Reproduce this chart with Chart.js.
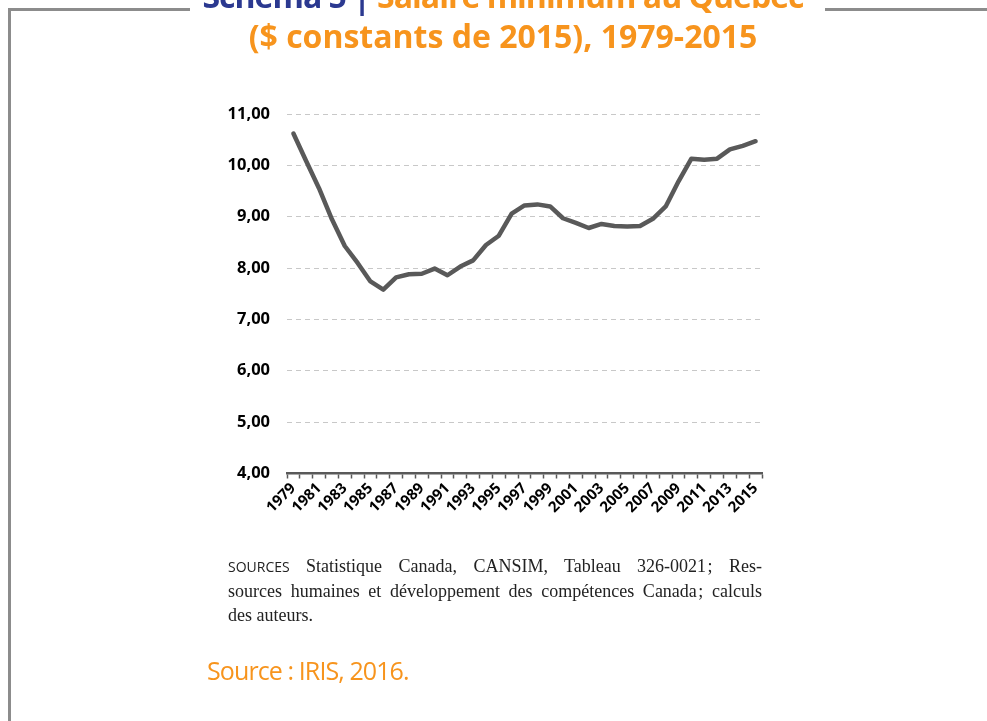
<!DOCTYPE html>
<html lang="fr">
<head>
<meta charset="utf-8">
<title>Salaire minimum au Québec</title>
<script src="https://cdn.jsdelivr.net/npm/chart.js@4"></script>
<style>
  html, body { margin: 0; padding: 0; background: #fff; }
  #page { position: relative; width: 987px; height: 721px; overflow: hidden; background: #fff; }
  #chart { position: absolute; left: 0; top: 0; }
  .frame { position: absolute; background: #8c8c8c; }
  #title {
    position: absolute; left: 0; width: 1006px; top: -24px;
    text-align: center; font-family: "Open Sans", sans-serif; font-weight: 700;
    font-size: 32px; line-height: 40px; color: #f7941d; letter-spacing: -1px;
  }
  #title .l2 { letter-spacing: 0px; }
  #title .blue { color: #2b3990; }
  #notes {
    position: absolute; left: 228px; top: 554px; width: 534px;
    font-family: "Liberation Serif", serif; font-size: 18px; line-height: 24px; color: #222;
  }
  #notes .j { text-align: justify; text-align-last: justify; }
  #notes .sc { font-family: "Open Sans", sans-serif; font-size: 14px; }
  #source {
    position: absolute; left: 207px; top: 653px;
    font-family: "Open Sans", sans-serif; font-size: 25px; color: #f7941d; letter-spacing: -0.9px;
  }
</style>
</head>
<body>
<div id="page">
  <canvas id="chart" width="987" height="721"></canvas>
  <div class="frame" style="left:8px; top:8px; width:182px; height:3px;"></div>
  <div class="frame" style="left:825px; top:8px; width:162px; height:3px;"></div>
  <div class="frame" style="left:8px; top:8px; width:3px; height:713px;"></div>
  <div id="title">
    <span class="blue">Schéma 5 |</span> Salaire minimum au Québec<br>
    <span class="l2">($ constants de 2015), 1979-2015</span>
  </div>
  <div id="notes">
    <div class="j"><span class="sc">SOURCES</span> Statistique Canada, CANSIM, Tableau 326-0021&#8202;; Res-</div>
    <div class="j">sources humaines et développement des compétences Canada&#8202;; calculs</div>
    <div>des auteurs.</div>
  </div>
  <div id="source">Source : IRIS, 2016.</div>
</div>
<script>
// Salaire minimum au Québec, $ constants de 2015
const years = [
  "1979", "1980", "1981", "1982", "1983", "1984", "1985", "1986", "1987", "1988",
  "1989", "1990", "1991", "1992", "1993", "1994", "1995", "1996", "1997", "1998",
  "1999", "2000", "2001", "2002", "2003", "2004", "2005", "2006", "2007", "2008",
  "2009", "2010", "2011", "2012", "2013", "2014", "2015"
];
const minimumWage = [
  10.62, 10.08, 9.55, 8.95, 8.43, 8.10, 7.74, 7.58, 7.82, 7.88,
  7.89, 7.99, 7.86, 8.03, 8.15, 8.45, 8.63, 9.06, 9.22, 9.24,
  9.20, 8.97, 8.88, 8.78, 8.86, 8.82, 8.81, 8.82, 8.96, 9.20,
  9.69, 10.13, 10.11, 10.13, 10.31, 10.38, 10.47
];
const yMin = 4;
const yMax = 11;

document.addEventListener("DOMContentLoaded", () => {
  initWageChart();
});

function initWageChart() {
  const ctx = document.getElementById("chart");
  if (!ctx) return;

  new Chart(ctx, {
    type: "line",
    data: {
      labels: years,
      datasets: [
        {
          label: "Salaire minimum",
          data: minimumWage,
          borderColor: "#595959",
          borderWidth: 4.5,
          pointRadius: 0,
          tension: 0,
          borderJoinStyle: "round",
          borderCapStyle: "round",
        },
      ],
    },
    options: {
      responsive: false,
      animation: false,
      layout: {
        padding: { left: 0, top: 114, right: 225, bottom: 0 },
      },
      scales: {
        x: {
          offset: true,
          grid: {
            offset: true,
            drawOnChartArea: false,
            drawTicks: true,
            tickLength: 5,
            tickColor: "#595959",
            tickWidth: 1.5,
          },
          border: { display: true, color: "#595959", width: 2.5 },
          ticks: {
            autoSkip: false,
            maxRotation: 45,
            minRotation: 45,
            padding: 1,
            color: "#000",
            font: { family: "Open Sans", weight: "bold", size: 15 },
            callback: function (value, index) {
              return index % 2 === 0 ? years[index] : "";
            },
          },
          afterFit: (scale) => {
            scale.height = 721 - 473.5;
          },
        },
        y: {
          min: yMin,
          max: yMax,
          grid: {
            color: "#c8c8c8",
            lineWidth: 1,
            drawTicks: false,
          },
          border: { display: false, dash: [5, 4] },
          ticks: {
            stepSize: 1,
            padding: 17,
            color: "#000",
            font: { family: "Open Sans", weight: "bold", size: 16.5 },
            callback: (value) => value.toFixed(2).replace(".", ","),
          },
          afterFit: (scale) => {
            scale.width = 287;
          },
        },
      },
      plugins: {
        legend: { display: false },
        tooltip: { enabled: false },
      },
    },
  });
}
</script>
</body>
</html>
